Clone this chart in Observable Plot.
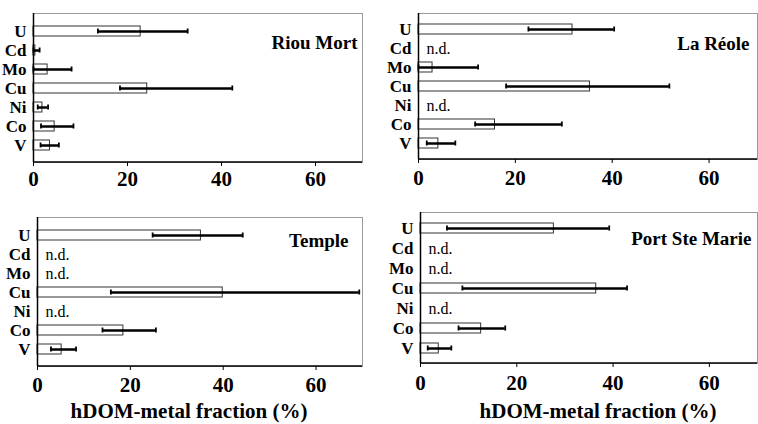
<!DOCTYPE html>
<html>
<head>
<meta charset="utf-8">
<script src="https://cdn.jsdelivr.net/npm/d3@7"></script>
<script src="https://cdn.jsdelivr.net/npm/@observablehq/plot@0.6"></script>
</head>
<body style="margin:0;padding:0;background:#fff">
<div id="wrap" style="position:relative;width:758px;height:424px;overflow:hidden;font-family:'Liberation Serif', serif"></div>
<script>
// Elements (top to bottom)
const elements = ["U", "Cd", "Mo", "Cu", "Ni", "Co", "V"];
const xTicks = [0, 20, 40, 60];
const axisTitle = "hDOM-metal fraction (%)";
const ndLabel = "n.d.";

// Site names
const sites = ["Riou Mort", "La Réole", "Temple", "Port Ste Marie"];

// hDOM-metal fraction (%) – mean, lower and upper error bounds (null = n.d.)
const riouMortMean = [22.8, 0.4, 3.0, 24.2, 1.9, 4.5, 3.5];
const riouMortLo   = [13.7, 0.0, 0.0, 18.4, 0.9, 1.6, 1.5];
const riouMortHi   = [32.8, 1.3, 8.1, 42.3, 3.1, 8.5, 5.4];

const laReoleMean = [31.8, null, 2.9, 35.4, null, 15.8, 4.1];
const laReoleLo   = [22.7, null, 0.0, 18.1, null, 11.7, 1.7];
const laReoleHi   = [40.4, null, 12.3, 51.8, null, 29.6, 7.6];

const templeMean = [35.2, null, null, 39.9, null, 18.5, 5.2];
const templeLo   = [24.8, null, null, 15.8, null, 14.0, 2.9];
const templeHi   = [44.2, null, null, 69.3, null, 25.5, 8.3];

const portSteMarieMean = [27.7, null, null, 36.5, null, 12.6, 3.8];
const portSteMarieLo   = [5.5, null, null, 8.7, null, 7.9, 1.5];
const portSteMarieHi   = [39.2, null, null, 42.9, null, 17.6, 6.4];

const seriesMean = [riouMortMean, laReoleMean, templeMean, portSteMarieMean];
const seriesLo = [riouMortLo, laReoleLo, templeLo, portSteMarieLo];
const seriesHi = [riouMortHi, laReoleHi, templeHi, portSteMarieHi];

// Layout (positions / margins) per panel
const layout = [
  {left: 0,   top: 0,   width: 379, height: 200, ml: 33, mr: 17, mt: 13, mb: 38, tp: 5,  tdx: -5,  tdy: 29},
  {left: 379, top: 0,   width: 379, height: 200, ml: 39, mr: 1,  mt: 13, mb: 41, tp: 7,  tdx: -8,  tdy: 30},
  {left: 0,   top: 200, width: 379, height: 224, ml: 37, mr: 17, mt: 17, mb: 58, tp: 7,  tdx: -14, tdy: 23},
  {left: 379, top: 200, width: 379, height: 224, ml: 41, mr: 1,  mt: 12, mb: 61, tp: 8,  tdx: -6,  tdy: 26}
];

const wrap = document.getElementById("wrap");
const serif = "'Liberation Serif', serif";

sites.forEach((site, i) => {
  const L = layout[i];
  const rows = elements.map((el, j) => ({el, mean: seriesMean[i][j], lo: seriesLo[i][j], hi: seriesHi[i][j]}));
  const det = rows.filter(d => d.mean != null);
  const nd = rows.filter(d => d.mean == null);

  const chart = Plot.plot({
    width: L.width,
    height: L.height,
    marginLeft: L.ml,
    marginRight: L.mr,
    marginTop: L.mt,
    marginBottom: L.mb,
    style: {fontFamily: serif, color: "#000", background: "transparent", overflow: "visible"},
    x: {domain: [0, 70], ticks: xTicks, tickSize: 4, tickPadding: L.tp, label: null},
    y: {domain: elements, padding: 0.5, label: null},
    marks: [
      Plot.frame({stroke: "#9a9a9a", strokeWidth: 1}),
      Plot.barX(det, {y: "el", x: "mean", fill: "white", stroke: "#333", strokeWidth: 1}),
      Plot.ruleY(det, {y: "el", x1: "lo", x2: "hi", stroke: "#000", strokeWidth: 2.5}),
      Plot.tickX(det, {y: "el", x: "lo", stroke: "#000", strokeWidth: 1.8, insetTop: 2.5, insetBottom: 2.5}),
      Plot.tickX(det, {y: "el", x: "hi", stroke: "#000", strokeWidth: 1.8, insetTop: 2.5, insetBottom: 2.5}),
      Plot.text(nd, {y: "el", frameAnchor: "left", text: () => ndLabel, textAnchor: "start", dx: 8, fontSize: 16, fill: "#000", fontFamily: serif}),
      Plot.ruleX([0], {stroke: "#000", strokeWidth: 1.5}),
      Plot.axisX({ticks: xTicks, tickSize: 4, tickPadding: L.tp, fontSize: 21, fontWeight: "bold", fontFamily: serif, label: null, stroke: "#000"}),
      Plot.axisY({tickSize: 0, tickPadding: 7, fontSize: 17, fontWeight: "bold", fontFamily: serif, label: null}),
      Plot.text([site], {frameAnchor: "top-right", lineAnchor: "middle", textAnchor: "end", dx: L.tdx, dy: L.tdy, fontSize: 19, fontWeight: "bold", fontFamily: serif, fill: "#000"})
    ]
  });
  const svg = d3.select(chart);
  svg.attr("font-family", serif);
  svg.selectAll("text, g").style("font-family", serif);
  // bottom axis line in black along the frame bottom
  svg.append("line")
    .attr("x1", L.ml).attr("x2", L.width - L.mr)
    .attr("y1", L.height - L.mb).attr("y2", L.height - L.mb)
    .attr("stroke", "#000").attr("stroke-width", 1.6);
  chart.style.position = "absolute";
  chart.style.left = L.left + "px";
  chart.style.top = L.top + "px";
  wrap.appendChild(chart);
});

// Axis titles below the bottom panels
[{x: 189, y: 411}, {x: 598, y: 411}].forEach(p => {
  const d = document.createElement("div");
  d.textContent = axisTitle;
  d.style.position = "absolute";
  d.style.fontFamily = serif;
  d.style.fontWeight = "bold";
  d.style.fontSize = "21px";
  d.style.whiteSpace = "nowrap";
  d.style.color = "#000";
  d.style.lineHeight = "1";
  d.style.transform = "translate(-50%, -50%)";
  d.style.left = p.x + "px";
  d.style.top = p.y + "px";
  wrap.appendChild(d);
});
</script>
</body>
</html>
